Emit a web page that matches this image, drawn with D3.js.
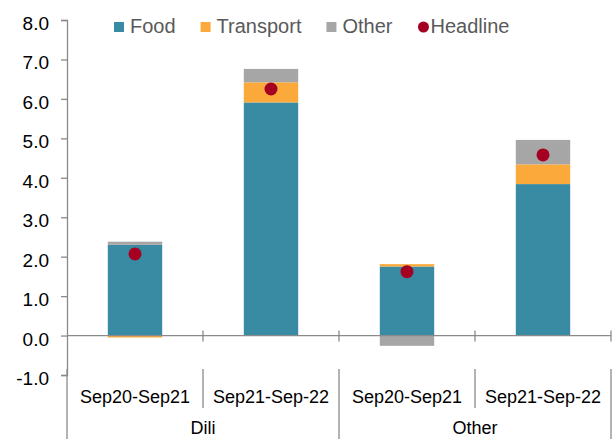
<!DOCTYPE html>
<html>
<head>
<meta charset="utf-8">
<script src="https://cdn.jsdelivr.net/npm/d3@7"></script>
<style>
  body { margin: 0; background: #fff; }
  svg { display: block; font-family: "Liberation Sans", Arial, sans-serif; }
</style>
</head>
<body>
<svg id="chart" width="613" height="439"></svg>
<script>
// chart values
var groups = ["Dili", "Other"];
var periods = ["Sep20-Sep21", "Sep21-Sep-22", "Sep20-Sep21", "Sep21-Sep-22"];
var groupOf = ["Dili", "Dili", "Other", "Other"];
var food = [2.30, 5.91, 1.75, 3.84];
var transport = [-0.05, 0.51, 0.06, 0.50];
var other = [0.08, 0.34, -0.26, 0.62];
var headline = [2.07, 6.25, 1.62, 4.58];
var yTicks = [-1, 0, 1, 2, 3, 4, 5, 6, 7, 8];

var seriesNames = ["Food", "Transport", "Other"];
var colors = {Food: "#388ba3", Transport: "#fba93b", Other: "#a6a6a6", Headline: "#a50021"};
var axisColor = "#8a8a8a";

function drawChart() {
    var svg = d3.select("#chart");

    var rows = periods.map(function(p, i) {
        return {idx: i, Food: food[i], Transport: transport[i], Other: other[i], Headline: headline[i]};
    });

    var x = d3.scaleBand()
        .domain(rows.map(function(d) { return d.idx; }))
        .range([67, 611])
        .padding(0);

    var y = d3.scaleLinear()
        .domain([-1, 8])
        .range([375, 20]);

    var bw = x.bandwidth();
    var barW = bw * 0.4;

    var stack = d3.stack()
        .keys(seriesNames)
        .offset(d3.stackOffsetDiverging);
    var stacked = stack(rows);

    // bars
    svg.append("g").selectAll("g")
            .data(stacked)
        .enter().append("g")
            .attr("fill", function(s) { return colors[s.key]; })
        .selectAll("rect")
            .data(function(s) { return s; })
        .enter().append("rect")
            .attr("x", function(d) { return x(d.data.idx) + (bw - barW) / 2; })
            .attr("width", barW)
            .attr("y", function(d) { return y(Math.max(d[0], d[1])); })
            .attr("height", function(d) { return Math.abs(y(d[0]) - y(d[1])); });

    // y axis
    var yAxis = d3.axisLeft(y)
        .tickValues(yTicks)
        .tickSize(6)
        .tickPadding(12)
        .tickFormat(function(d) { return d.toFixed(1); });   // plain hyphen minus

    var gy = svg.append("g")
        .attr("transform", "translate(67,0)")
        .call(yAxis);
    gy.select(".domain").attr("stroke", axisColor).attr("stroke-width", 1.3);
    gy.selectAll(".tick line").attr("stroke", axisColor).attr("stroke-width", 1.3);
    gy.selectAll(".tick text")
        .attr("fill", "#000")
        .attr("dy", "0.5em")
        .style("font-size", "19px");

    // x axis along zero
    var y0 = y(0);
    svg.append("line")
        .attr("x1", 67).attr("x2", 611)
        .attr("y1", y0).attr("y2", y0)
        .attr("stroke", axisColor).attr("stroke-width", 1.3);

    svg.append("g").selectAll("line")
            .data(rows)
        .enter().append("line")
            .attr("x1", function(d) { return x(d.idx) + bw; })
            .attr("x2", function(d) { return x(d.idx) + bw; })
            .attr("y1", y0 - 5)
            .attr("y2", y0 + 6)
            .attr("stroke", axisColor).attr("stroke-width", 1.3);

    // headline dots
    svg.append("g").selectAll("circle")
            .data(rows)
        .enter().append("circle")
            .attr("cx", function(d) { return x(d.idx) + bw / 2; })
            .attr("cy", function(d) { return y(d.Headline); })
            .attr("r", 6.5)
            .attr("fill", colors.Headline);

    // category labels
    svg.append("g").selectAll("text")
            .data(rows)
        .enter().append("text")
            .attr("x", function(d) { return x(d.idx) + bw / 2; })
            .attr("y", 403)
            .attr("text-anchor", "middle")
            .style("font-size", "18px")
            .attr("fill", "#000")
            .text(function(d) { return periods[d.idx]; });

    // separators between periods within a group
    svg.append("g").selectAll("line")
            .data(rows.filter(function(d, i) { return i > 0 && groupOf[i] === groupOf[i - 1]; }))
        .enter().append("line")
            .attr("x1", function(d) { return x(d.idx); })
            .attr("x2", function(d) { return x(d.idx); })
            .attr("y1", 369).attr("y2", 408)
            .attr("stroke", axisColor).attr("stroke-width", 1.3);

    // group extents
    var groupData = groups.map(function(g) {
        var idx = rows.filter(function(d) { return groupOf[d.idx] === g; }).map(function(d) { return d.idx; });
        return {name: g, x0: x(d3.min(idx)), x1: x(d3.max(idx)) + bw};
    });

    var edges = [groupData[0].x0].concat(groupData.map(function(g) { return g.x1; }));
    svg.append("g").selectAll("line")
            .data(edges)
        .enter().append("line")
            .attr("x1", function(d) { return d; })
            .attr("x2", function(d) { return d; })
            .attr("y1", 369).attr("y2", 439)
            .attr("stroke", axisColor).attr("stroke-width", 1.3);

    svg.append("g").selectAll("text")
            .data(groupData)
        .enter().append("text")
            .attr("x", function(d) { return (d.x0 + d.x1) / 2; })
            .attr("y", 434)
            .attr("text-anchor", "middle")
            .style("font-size", "18px")
            .attr("fill", "#000")
            .text(function(d) { return d.name; });

    // legend
    var legend = svg.append("g").attr("transform", "translate(114,0)");
    var legendItems = seriesNames.concat(["Headline"]);
    var lx = 0;
    legendItems.forEach(function(name) {
        var item = legend.append("g").attr("transform", "translate(" + lx + ",0)");
        var tx;
        if (name === "Headline") {
            item.append("circle")
                .attr("cx", 6).attr("cy", 27).attr("r", 5.5)
                .attr("fill", colors[name]);
            tx = 13;
        } else {
            item.append("rect")
                .attr("x", 0).attr("y", 22)
                .attr("width", 10).attr("height", 10)
                .attr("fill", colors[name]);
            tx = 16;
        }
        var t = item.append("text")
            .attr("x", tx).attr("y", 33)
            .style("font-size", "20px")
            .attr("fill", "#595959")
            .text(name);
        lx += tx + t.node().getComputedTextLength() + 25;
    });
}

drawChart();
</script>
</body>
</html>
